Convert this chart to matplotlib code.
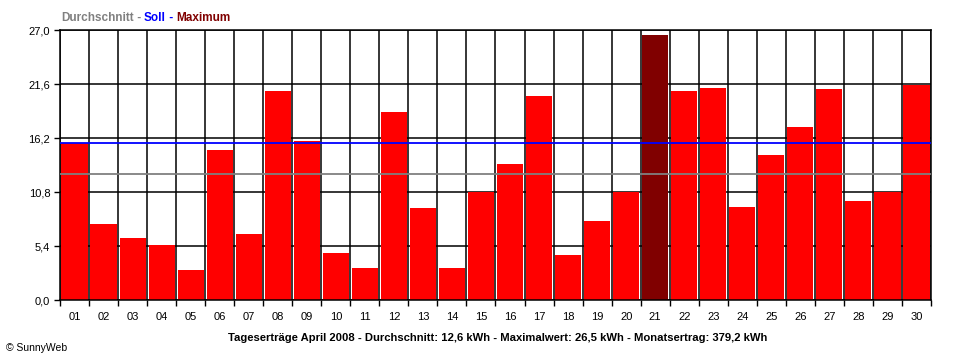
import matplotlib
matplotlib.use("Agg")
import matplotlib.pyplot as plt
import numpy as np

days = [f"{i:02d}" for i in range(1, 31)]
values = [15.7, 7.6, 6.2, 5.5, 3.0, 15.0, 6.6, 20.9, 15.9, 4.7,
          3.2, 18.8, 9.2, 3.2, 10.8, 13.6, 20.4, 4.5, 7.9, 10.8,
          26.5, 20.9, 21.2, 9.3, 14.5, 17.3, 21.1, 9.9, 10.8, 21.5]
average = 12.6
target = 15.7
yticks = [0.0, 5.4, 10.8, 16.2, 21.6, 27.0]
ytick_labels = ["0,0", "5,4", "10,8", "16,2", "21,6", "27,0"]
legend_parts = [("Durchschnitt", "#808080"), (" - ", "#808080"), ("Soll", "#0000FF"),
                (" - ", "#0000FF"), ("Maximum", "#800000")]
footer = ("Tageserträge April 2008 - Durchschnitt: 12,6 kWh - Maximalwert: 26,5 kWh"
          " - Monatsertrag: 379,2 kWh")
credit = "© SunnyWeb"

plt.rcParams['font.family'] = ['Liberation Sans', 'DejaVu Sans']
W, H = 960, 360
fig = plt.figure(figsize=(W / 100, H / 100), dpi=100)
ax = fig.add_axes([60 / W, 60 / H, 871 / W, 270 / H])

x = np.arange(len(values))
imax = int(np.argmax(values))
colors = ['#800000' if i == imax else '#FF0000' for i in x]
ax.bar(x, values, width=0.9, color=colors, zorder=2)
ax.axhline(average, color='#808080', lw=1.3, zorder=3)
ax.axhline(target, color='#0000FF', lw=1.3, zorder=3)

ax.set_xlim(-0.5, len(values) - 0.5)
ax.set_ylim(0, 27)
ax.set_yticks(yticks)
ax.set_yticklabels(ytick_labels, fontsize=8)
ax.set_xticks(x)
ax.set_xticklabels(days, fontsize=8)
ax.set_xticks(np.arange(-0.5, len(values), 1), minor=True)
ax.tick_params(axis='x', which='major', length=0, pad=8.5)
ax.tick_params(axis='x', which='minor', length=4, width=1, color='k', direction='out')
ax.tick_params(axis='y', which='major', length=4, width=1, color='k', direction='out', pad=3)
ax.set_axisbelow(True)
ax.grid(which='minor', axis='x', color='k', lw=1.1)
ax.grid(which='major', axis='y', color='k', lw=1.1)
for s in ax.spines.values():
    s.set_color('k')
    s.set_linewidth(1.1)

# coloured legend title
fig.canvas.draw()
renderer = fig.canvas.get_renderer()
xpos = 61
for txt, col in legend_parts:
    t = fig.text(xpos / W, (H - 21) / H, txt, color=col, fontsize=8.5, fontweight='bold',
                 ha='left', va='baseline')
    bb = t.get_window_extent(renderer=renderer)
    xpos += bb.width

fig.text(498 / W, (H - 341) / H, footer, fontsize=8.15, fontweight='bold',
         ha='center', va='baseline', color='k')
fig.text(6 / W, (H - 351) / H, credit, fontsize=7.5, ha='left', va='baseline', color='k')

fig.savefig("out.png", dpi=100, facecolor='white')
